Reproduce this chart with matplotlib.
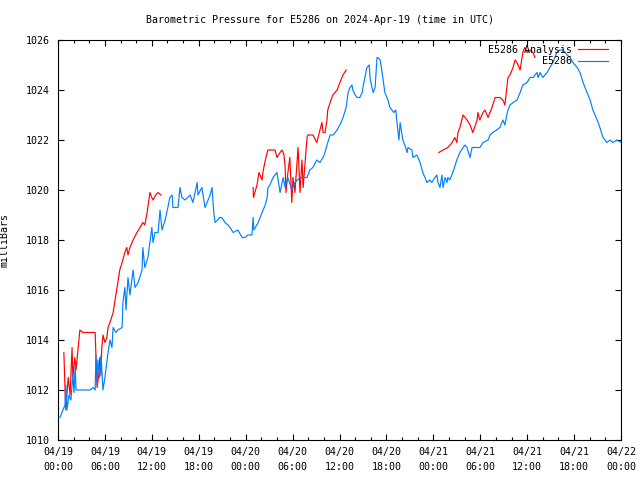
"""Barometric pressure chart, gnuplot look"""
import matplotlib
matplotlib.use("Agg")
import matplotlib.pyplot as plt
import numpy as np
from datetime import datetime, timedelta

# hours since 2024-04-19 00:00 UTC
station_hours = [
    0.26, 0.5, 0.9, 1.0, 1.15, 1.4, 1.65, 1.9, 2.05, 2.2, 2.3, 2.55, 3.45, 4.1, 4.5,
    4.75, 4.85, 5.0, 5.1, 5.35, 5.5, 5.75, 6.0, 6.4, 6.65, 6.9, 7.05, 7.4, 7.65, 8.2,
    8.3, 8.55, 8.7, 8.95, 9.2, 9.6, 9.85, 10.25, 10.75, 10.85, 11.1, 11.5, 11.75, 12.0,
    12.15, 12.4, 12.8, 13.05, 13.3, 13.7, 14.05, 14.3, 14.6, 14.7, 15.35, 15.6, 15.85,
    16.25, 16.9, 17.25, 17.8, 17.9, 18.4, 18.8, 19.45, 19.7, 19.8, 19.95, 20.1, 20.7,
    20.95, 21.35, 21.75, 22.0, 22.4, 23.0, 23.55, 23.9, 24.3, 24.8, 24.95, 25.05, 25.6,
    26.1, 26.5, 26.75, 26.85, 27.1, 27.5, 28.0, 28.4, 28.8, 29.05, 29.4, 29.9, 30.3,
    30.95, 31.85, 32.2, 32.6, 33.1, 33.5, 33.9, 34.15, 34.4, 34.8, 35.2, 35.7, 36.2,
    36.45, 36.85, 37.1, 37.35, 37.6, 37.7, 38.0, 38.25, 38.6, 38.9, 39.0, 39.25, 39.5,
    39.8, 39.9, 40.15, 40.3, 40.55, 40.8, 40.9, 41.2, 41.45, 41.8, 42.2, 42.45, 42.7,
    42.95, 43.2, 43.35, 43.6, 43.75, 44.1, 44.35, 44.65, 44.75, 45.25, 45.4, 45.9, 46.3,
    46.65, 47.2, 47.55, 47.8, 48.2, 48.45, 48.6, 48.85, 49.1, 49.25, 49.5, 49.75, 49.85,
    50.1, 50.5, 51.0, 51.4, 51.8, 52.05, 52.3, 52.7, 52.95, 53.3, 53.95, 54.35, 55.0,
    55.25, 55.6, 56.1, 56.5, 56.9, 57.15, 57.4, 57.55, 57.8, 58.2, 58.7, 59.1, 59.45,
    60.0, 60.35, 60.75, 61.25, 61.4, 61.65, 62.0, 62.55, 62.9, 63.3, 63.8, 64.2, 64.6,
    65.1, 65.5, 65.85, 66.4, 66.75, 67.15, 67.65, 68.05, 68.4, 68.95, 69.3, 69.7, 70.2,
    70.6, 70.95, 71.5, 72.0,
]
station_mb = [
    1010.9, 1011.1, 1011.4, 1012.2, 1011.2, 1011.8, 1011.6, 1012.6, 1011.9, 1013.0,
    1012.0, 1012.0, 1012.0, 1012.0, 1012.1, 1012.0, 1013.4, 1012.2, 1013.2, 1012.5,
    1013.4, 1012.0, 1012.5, 1013.5, 1014.0, 1013.7, 1014.5, 1014.3, 1014.4, 1014.5,
    1015.5, 1016.1, 1015.2, 1016.5, 1015.8, 1016.8, 1016.1, 1016.3, 1016.8, 1017.7,
    1016.9, 1017.3, 1017.9, 1018.5, 1017.9, 1018.3, 1018.3, 1019.2, 1018.4, 1018.8,
    1019.3, 1019.7, 1019.8, 1019.3, 1019.3, 1020.1, 1019.7, 1019.6, 1019.8, 1019.5,
    1020.3, 1019.8, 1020.1, 1019.3, 1019.8, 1020.1, 1019.6, 1019.0, 1018.7, 1018.9,
    1018.9, 1018.7, 1018.6, 1018.5, 1018.3, 1018.4, 1018.1, 1018.1, 1018.2, 1018.2,
    1018.9, 1018.4, 1018.7, 1019.1, 1019.4, 1019.7, 1020.1, 1020.2, 1020.5, 1020.7,
    1019.9, 1020.5, 1020.1, 1020.5, 1020.0, 1020.3, 1020.5, 1020.5, 1020.8, 1020.9,
    1021.2, 1021.1, 1021.3, 1021.5, 1021.8, 1022.2, 1022.2, 1022.4, 1022.7, 1022.9,
    1023.3, 1023.9, 1024.1, 1024.2, 1024.0, 1023.8, 1023.7, 1023.7, 1023.9, 1024.1,
    1024.5, 1024.9, 1025.0, 1024.5, 1024.1, 1023.9, 1024.1, 1025.3, 1025.3, 1025.2,
    1024.7, 1023.9, 1023.6, 1023.3, 1023.2, 1023.1, 1023.2, 1022.7, 1022.0, 1022.7,
    1022.0, 1021.8, 1021.5, 1021.7, 1021.6, 1021.3, 1021.4, 1021.1, 1020.7, 1020.3,
    1020.4, 1020.3, 1020.5, 1020.6, 1020.3, 1020.1, 1020.6, 1020.1, 1020.5, 1020.3,
    1020.5, 1020.4, 1020.7, 1021.2, 1021.5, 1021.7, 1021.8, 1021.7, 1021.3, 1021.7,
    1021.7, 1021.7, 1021.9, 1022.0, 1022.2, 1022.3, 1022.4, 1022.5, 1022.8, 1022.6,
    1023.0, 1023.2, 1023.4, 1023.5, 1023.6, 1023.9, 1024.2, 1024.3, 1024.5, 1024.5,
    1024.7, 1024.5, 1024.7, 1024.5, 1024.7, 1024.9, 1025.1, 1025.5, 1025.6, 1025.6,
    1025.4, 1025.3, 1025.1, 1024.9, 1024.7, 1024.3, 1023.9, 1023.6, 1023.2, 1022.8,
    1022.5, 1022.1, 1021.9, 1022.0, 1021.9, 1022.0, 1021.9,
]

# analysis series, NaN marks the gaps between runs
analysis_hours = [
    0.75, 0.9, 1.0, 1.3, 1.55, 1.8, 1.9, 2.15, 2.3, 2.55, 2.8, 3.2, 4.1, 4.75, 4.85,
    5.0, 5.25, 5.35, 5.5, 5.6, 5.75, 6.0, 6.25, 6.4, 6.65, 7.05, 7.4, 7.65, 7.9, 8.2,
    8.55, 8.8, 8.95, 9.2, 9.6, 10.1, 10.5, 10.85, 11.1, 11.4, 11.75, 12.0, 12.15, 12.5,
    12.8, 13.15,
    19.0,
    24.95, 25.0, 25.45, 25.7, 26.1, 26.2, 26.45, 26.75, 26.85, 27.75, 28.0, 28.4,
    28.65, 28.9, 29.05, 29.15, 29.4, 29.65, 29.9, 30.05, 30.3, 30.7, 30.95, 31.2,
    31.35, 31.85, 31.95, 32.6, 33.1, 33.5, 33.75, 33.9, 34.15, 34.4, 34.5, 34.8,
    35.15, 35.7, 36.05, 36.45, 36.85,
    42.0,
    48.7, 49.25, 49.85, 50.4, 50.75, 51.0, 51.15, 51.4, 51.8, 52.3, 52.7, 53.05, 53.6,
    53.7, 53.95, 54.35, 54.6, 55.0, 55.5, 55.9, 56.5, 56.9, 57.15, 57.4, 57.55, 57.8,
    58.2, 58.45, 58.7, 59.1, 59.45, 59.7, 60.0, 60.35, 60.75, 61.0,
]
analysis_mb = [
    1013.5, 1012.0, 1011.2, 1012.5, 1011.8, 1013.7, 1012.5, 1013.3, 1012.8, 1013.6,
    1014.4, 1014.3, 1014.3, 1014.3, 1013.4, 1012.1, 1012.7, 1013.3, 1012.6, 1013.7,
    1014.2, 1013.9, 1014.1, 1014.5, 1014.7, 1015.1, 1015.8, 1016.3, 1016.8, 1017.1,
    1017.5, 1017.7, 1017.4, 1017.7, 1018.0, 1018.3, 1018.5, 1018.7, 1018.6, 1019.1,
    1019.9, 1019.7, 1019.6, 1019.8, 1019.9, 1019.8,
    np.nan,
    1020.1, 1019.7, 1020.2, 1020.7, 1020.4, 1020.7, 1021.1, 1021.5, 1021.6, 1021.6,
    1021.3, 1021.5, 1021.6, 1021.4, 1020.9, 1019.9, 1020.7, 1021.3, 1019.5, 1020.5,
    1019.9, 1021.7, 1019.9, 1021.2, 1020.1, 1022.1, 1022.2, 1022.2, 1021.9, 1022.4,
    1022.7, 1022.3, 1022.3, 1022.8, 1023.2, 1023.5, 1023.8, 1024.0, 1024.3, 1024.6,
    1024.8,
    np.nan,
    1021.5, 1021.6, 1021.7, 1021.9, 1022.1, 1021.9, 1022.3, 1022.5, 1023.0, 1022.8,
    1022.6, 1022.3, 1022.8, 1023.1, 1022.8, 1023.1, 1023.2, 1022.9, 1023.3, 1023.7,
    1023.7, 1023.6, 1023.4, 1024.1, 1024.5, 1024.6, 1024.9, 1025.2, 1025.1, 1024.8,
    1025.5, 1025.7, 1025.5, 1025.6, 1025.5, 1025.3,
]

start = datetime(2024, 4, 19)
major_hours = list(range(0, 73, 6))
tick_labels = [(start + timedelta(hours=h)).strftime("%m/%d\n%H:%M") for h in major_hours]

plt.rcParams['font.family'] = ['DejaVu Sans Mono']
plt.rcParams['font.size'] = 7.2

fig = plt.figure(figsize=(6.4, 4.8), dpi=100)
ax = fig.add_axes([58 / 640, 40 / 480, 563 / 640, 400 / 480])

ax.plot(analysis_hours, analysis_mb, color='#ff0000', lw=0.85, label='E5286 Analysis')
ax.plot(station_hours, station_mb, color='#0080ff', lw=0.85, label='E5286')

ax.set_xlim(0, 72)
ax.set_ylim(1010, 1026)
ax.set_xticks(major_hours)
ax.set_xticklabels(tick_labels, linespacing=1.6)
ax.set_xticks(range(0, 73, 2), minor=True)
ax.set_yticks(range(1010, 1027, 2))
ax.tick_params(which='both', direction='in', top=True, right=True, width=0.8)
ax.tick_params(which='major', length=4, pad=5)
ax.tick_params(axis='y', which='major', pad=6)
ax.tick_params(which='minor', length=2.5)
for s in ax.spines.values():
    s.set_linewidth(0.8)

ax.set_ylabel('milliBars')
ax.yaxis.set_label_coords((10 - 58) / 563, 0.5)
fig.text(0.5, 1 - 20 / 480, 'Barometric Pressure for E5286 on 2024-Apr-19 (time in UTC)',
         ha='center', va='center')

ax.legend(loc='upper right', bbox_to_anchor=(0.985, 1.0), frameon=False,
          markerfirst=False, handlelength=3.0, handletextpad=0.6,
          borderaxespad=0.1, labelspacing=0.15)

plt.savefig('out.png', dpi=100)
plt.close()
